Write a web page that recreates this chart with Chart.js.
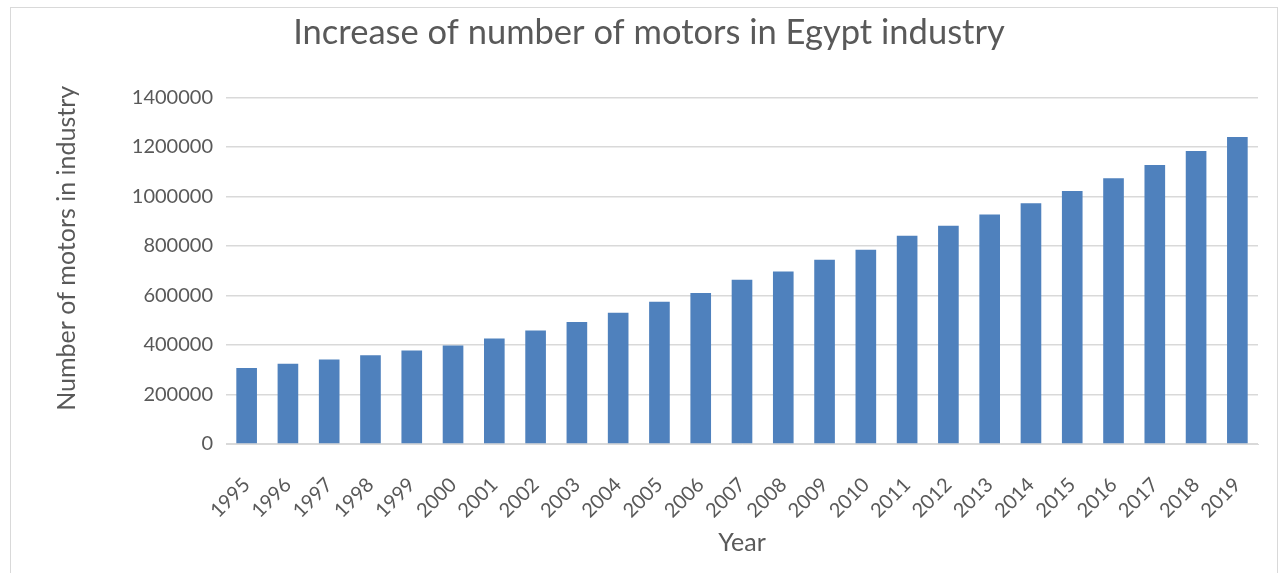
<!DOCTYPE html>
<html>
<head>
<meta charset="utf-8">
<script src="https://cdn.jsdelivr.net/npm/chart.js@4.4.1/dist/chart.umd.min.js"></script>
<style>
  html, body { margin: 0; padding: 0; background: #fff; }
  #wrap { position: relative; width: 1286px; height: 573px; overflow: hidden; }
  #frame { position: absolute; left: 10px; top: 7px; width: 1268px; height: 600px; border: 1px solid #d9d9d9; box-sizing: border-box; }
  canvas { position: absolute; left: 0; top: 0; }
</style>
</head>
<body>
<div id="wrap">
  <div id="frame"></div>
  <canvas id="c" width="1286" height="573"></canvas>
</div>
<script>
const years = ['1995', '1996', '1997', '1998', '1999', '2000', '2001', '2002', '2003', '2004',
  '2005', '2006', '2007', '2008', '2009', '2010', '2011', '2012', '2013', '2014',
  '2015', '2016', '2017', '2018', '2019'];
const motors = [307000, 324000, 341000, 358000, 378000, 398000, 426000, 458000, 493000, 530000,
  575000, 610000, 663000, 697000, 744000, 785000, 841000, 882000, 927000, 972000,
  1022000, 1073000, 1127000, 1183000, 1240000];
const yTicks = [0, 200000, 400000, 600000, 800000, 1000000, 1200000, 1400000];

const textColor = '#595959';
const gridColor = '#d9d9d9';
const font = 'Lato';

new Chart(document.getElementById('c'), {
  type: 'bar',
  data: {
    labels: years,
    datasets: [{
      data: motors,
      backgroundColor: '#4f81bd',
      barPercentage: 0.5,
      categoryPercentage: 1.0,
    }],
  },
  options: {
    responsive: false,
    animation: false,
    layout: {
      padding: { top: 0, left: 40, right: 28, bottom: 15 },
    },
    scales: {
      x: {
        grid: { display: false },
        border: { color: gridColor },
        ticks: {
          color: textColor,
          font: { family: font, size: 20 },
          minRotation: 45,
          maxRotation: 45,
          padding: 21,
        },
        title: {
          display: true,
          text: 'Year',
          color: textColor,
          font: { family: font, size: 25 },
          padding: { top: 0, bottom: 0 },
        },
        afterFit: (scale) => { scale.height = 114; },
      },
      y: {
        min: 0,
        max: 1400000,
        afterBuildTicks: (scale) => { scale.ticks = yTicks.map((v) => ({ value: v })); },
        grid: { color: gridColor, drawTicks: false, lineWidth: 1.5 },
        border: { display: false },
        ticks: {
          color: textColor,
          font: { family: font, size: 20 },
          padding: 13,
          callback: (v) => String(v),
        },
        title: {
          display: true,
          // leading spaces nudge the label up like the original
          text: '       Number of motors in industry',
          color: textColor,
          font: { family: font, size: 25 },
          padding: { top: 12, bottom: 0 },
        },
        afterFit: (scale) => { scale.width = 186; },
      },
    },
    plugins: {
      legend: { display: false },
      tooltip: { enabled: false },
      title: {
        display: true,
        text: 'Increase of number of motors in Egypt industry',
        color: textColor,
        font: { family: font, size: 34.5, weight: 'normal' },
        padding: { top: 12, bottom: 44 },
      },
    },
  },
});
</script>
</body>
</html>
